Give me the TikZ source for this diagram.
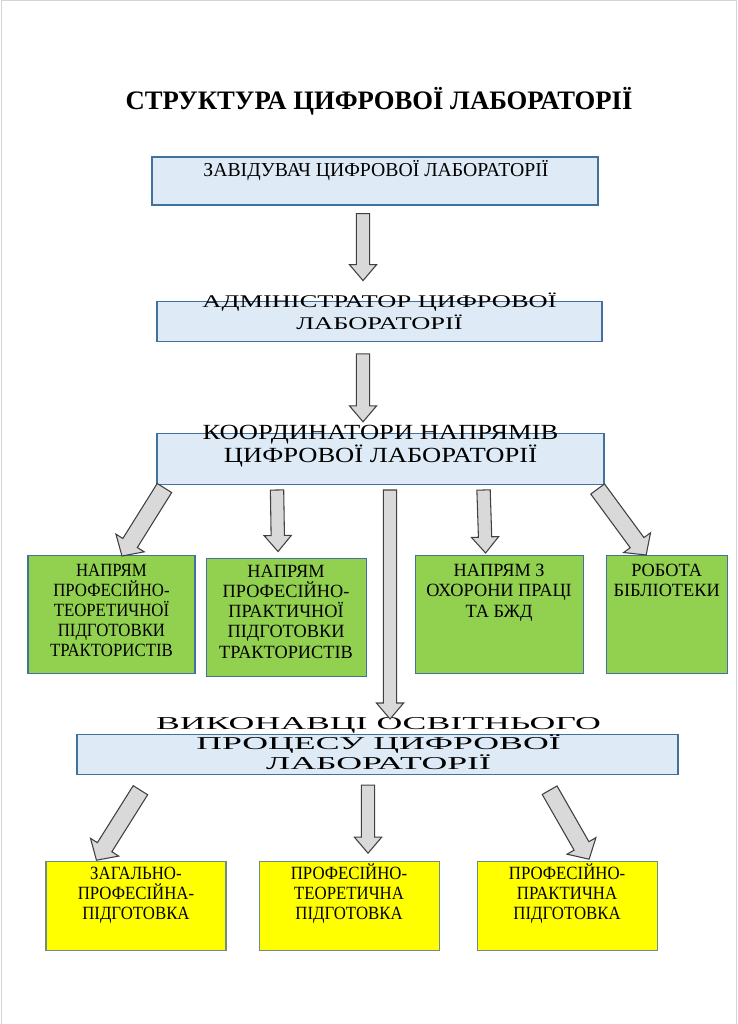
\documentclass[tikz,border=0pt]{standalone}
\usepackage{fontspec}
\setmainfont{Liberation Serif}
\newfontfamily\admfont[FakeStretch=1.48]{Liberation Serif}
\newfontfamily\crdfont[FakeStretch=1.23]{Liberation Serif}
\newfontfamily\exefont[FakeStretch=1.97]{Liberation Serif}
\newfontfamily\slimfont[FakeStretch=0.9]{Liberation Serif}
\newfontfamily\fullfont[FakeStretch=0.98]{Liberation Serif}
\usetikzlibrary{positioning, calc}
\definecolor{cFrame}{RGB}{212,212,212}
\definecolor{cLine}{RGB}{65,113,156}
\definecolor{cEdge}{RGB}{110,140,130}
\definecolor{cBlue}{RGB}{222,235,247}
\definecolor{cGreen}{RGB}{146,208,80}
\definecolor{cYellow}{RGB}{255,255,0}
\definecolor{cArrow}{RGB}{217,217,217}
\definecolor{cArrowLine}{RGB}{64,64,64}
\tikzset{
	headbox/.style ={rectangle, draw=cLine, line width=0.9pt, fill=cBlue, inner sep=0pt},
	dirbox/.style  ={rectangle, draw=cLine, line width=0.8pt, fill=cGreen, inner sep=0pt, minimum height=88.5pt},
	partbox/.style ={rectangle, draw=cEdge, line width=0.8pt, fill=cYellow, inner sep=0pt, minimum width=135pt, minimum height=66.75pt},
	% texts of the boxes
	titletext/.style={inner sep=0pt, font=\bfseries\fontsize{20pt}{23pt}\selectfont},
	bosstext/.style ={inner sep=0pt, font=\fontsize{14.8pt}{17pt}\selectfont},
	admtext/.style  ={inner sep=0pt, align=center, font=\admfont\fontsize{13.4pt}{16.5pt}\selectfont},
	crdtext/.style  ={inner sep=0pt, align=center, font=\crdfont\fontsize{16.2pt}{17.5pt}\selectfont},
	exetext/.style  ={inner sep=0pt, align=center, font=\exefont\fontsize{13.6pt}{15pt}\selectfont},
	dirtext/.style  ={inner sep=0pt, align=center, font=\slimfont\fontsize{14pt}{15pt}\selectfont},
	widetext/.style ={dirtext, font=\fullfont\fontsize{14pt}{15.2pt}\selectfont},
	% block arrows
	blockarr/.style ={draw=cArrowLine, line width=0.8pt, fill=cArrow, line join=miter},
}
% half shaft, half head, head length, tail, tip
\newcommand{\blockarrow}[5]{%
	\coordinate (ba) at (#4);
	\coordinate (bb) at (#5);
	\coordinate (bh) at ($(bb)!#3!(ba)$);
	\draw[blockarr] ($(ba)!#1!90:(bb)$) -- ($(bh)!#1!90:(bb)$) -- ($(bh)!#2!90:(bb)$) -- (bb)
		-- ($(bh)!#2!-90:(bb)$) -- ($(bh)!#1!-90:(bb)$) -- ($(ba)!#1!-90:(bb)$) -- cycle;
}
\newcommand{\vblock}[2]{\blockarrow{5pt}{10.2pt}{12pt}{#1}{#2}}
\newcommand{\dblock}[2]{\blockarrow{6.4pt}{12.5pt}{11.5pt}{#1}{#2}}

\begin{document}
\begin{tikzpicture}[x=0.75pt, y=-0.75pt]
	\useasboundingbox (0,0) rectangle (738,1024);
	\draw[cFrame, line width=0.75pt] (1,1024) -- (1,1) -- (736.5,1) -- (736.5,1024);

	\node[titletext, anchor=base] (title) at (379,109) {СТРУКТУРА ЦИФРОВОЇ ЛАБОРАТОРІЇ};

	% main column
	\node[headbox, minimum width=334.5pt, minimum height=36pt] (boss) at (375,181) {};
	\node[headbox, minimum width=333.75pt, minimum height=30pt, below=71.25pt of boss, xshift=3.4pt] (admin) {};
	\node[headbox, minimum width=335.25pt, minimum height=38.25pt, below=68.25pt of admin, xshift=0.75pt] (coord) {};
	\node[headbox, minimum width=450.75pt, minimum height=30pt, below=186.75pt of coord, xshift=-2.25pt] (exec) {};

	% directions
	\node[dirbox, minimum width=125.25pt, anchor=north west] (g1) at ($(coord.south west)+(-129,70)$) {};
	\node[dirbox, minimum width=120pt, right=7.5pt of g1, yshift=-1.9pt] (g2) {};
	\node[dirbox, minimum width=126pt, right=36pt of g2, yshift=1.9pt] (g3) {};
	\node[dirbox, minimum width=90.75pt, right=16.5pt of g3] (g4) {};

	% kinds of training
	\node[partbox, anchor=north west] (y1) at ($(exec.south west)+(-31,86)$) {};
	\node[partbox, right=24pt of y1] (y2) {};
	\node[partbox, right=27.75pt of y2] (y3) {};

	\node[bosstext, anchor=base] (bossT) at ($(boss.north)+(1,20)$) {ЗАВІДУВАЧ ЦИФРОВОЇ ЛАБОРАТОРІЇ};
	\node[admtext, anchor=north] (adminT) at ($(admin.north)+(0,-8)$) {АДМІНІСТРАТОР ЦИФРОВОЇ\\ЛАБОРАТОРІЇ};
	\node[crdtext, anchor=north] (coordT) at ($(coord.north)+(0,-8)$) {КООРДИНАТОРИ НАПРЯМІВ\\ЦИФРОВОЇ ЛАБОРАТОРІЇ};
	\node[exetext, anchor=north] (execT) at ($(exec.north)+(1,-16.5)$) {ВИКОНАВЦІ ОСВІТНЬОГО\\ПРОЦЕСУ ЦИФРОВОЇ\\ЛАБОРАТОРІЇ};

	\node[dirtext, anchor=north] (g1T) at ($(g1.north)+(0,9)$) {НАПРЯМ\\ПРОФЕСІЙНО-\\ТЕОРЕТИЧНОЇ\\ПІДГОТОВКИ\\ТРАКТОРИСТІВ};
	\node[widetext, anchor=north] (g2T) at ($(g2.north)+(0,7)$) {НАПРЯМ\\ПРОФЕСІЙНО-\\ПРАКТИЧНОЇ\\ПІДГОТОВКИ\\ТРАКТОРИСТІВ};
	\node[widetext, anchor=north] (g3T) at ($(g3.north)+(0,9)$) {НАПРЯМ З\\ОХОРОНИ ПРАЦІ\\ТА БЖД};
	\node[widetext, anchor=north] (g4T) at ($(g4.north)+(0,9)$) {РОБОТА\\БІБЛІОТЕКИ};

	\node[dirtext, anchor=north] (y1T) at ($(y1.north)+(0,6)$) {ЗАГАЛЬНО-\\ПРОФЕСІЙНА-\\ПІДГОТОВКА};
	\node[dirtext, anchor=north] (y2T) at ($(y2.north)+(0,2)$) {ПРОФЕСІЙНО-\\ТЕОРЕТИЧНА\\ПІДГОТОВКА};
	\node[dirtext, anchor=north] (y3T) at ($(y3.north)+(0,2)$) {ПРОФЕСІЙНО-\\ПРАКТИЧНА\\ПІДГОТОВКА};

	% arrows
	\vblock{$(boss.south)+(-12,8)$}{$(admin.north)+(-16.5,-20)$}
	\vblock{$(admin.south)+(-16.5,12)$}{$(coord.north)+(-17.5,-11)$}
	\dblock{$(coord.south west)+(8,3)$}{$(g1.north)+(10.5,1)$}
	\vblock{$(coord.south)+(-103.5,5)$}{$(g2.north)+(-8,-6)$}
	\vblock{$(coord.south)+(9.5,5)$}{$(exec.north)+(12.5,-15)$}
	\vblock{$(coord.south)+(103,5)$}{$(g3.north)+(-13.5,-2)$}
	\dblock{$(coord.south east)+(-7,4)$}{$(g4.north)+(-20.5,0)$}
	\dblock{$(exec.south west)+(64,15)$}{$(y1.north)+(-39.5,-1)$}
	\vblock{$(exec.south)+(-9.5,10)$}{$(y2.north)+(19,-8)$}
	\dblock{$(exec.south east)+(-129,15)$}{$(y3.north)+(22,-2)$}
\end{tikzpicture}
\end{document}
